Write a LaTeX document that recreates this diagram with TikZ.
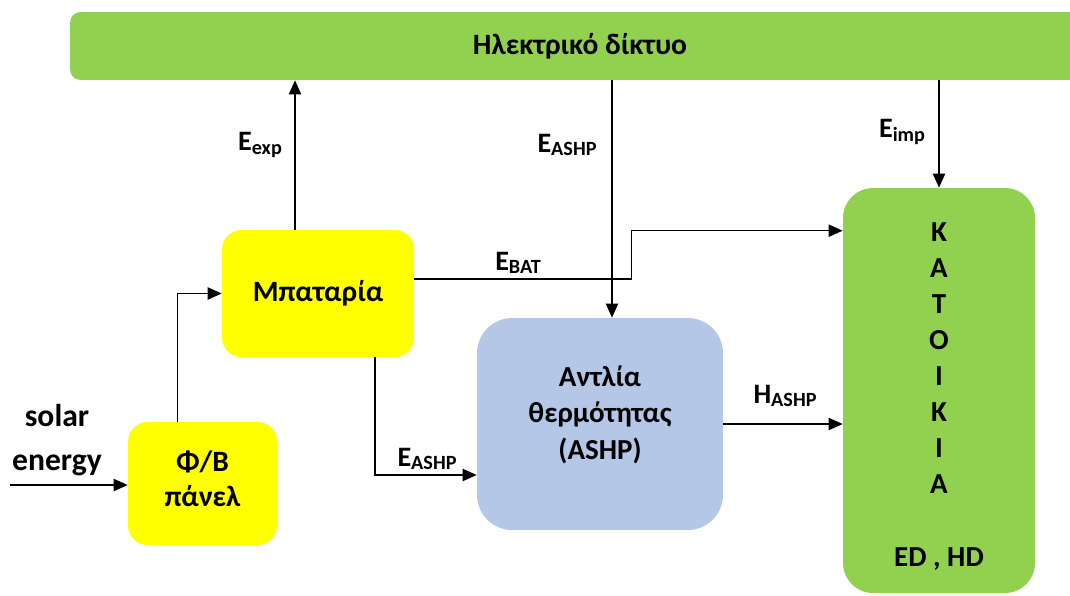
\documentclass[tikz,border=0pt]{standalone}
\usepackage{fontspec}
\setmainfont{Carlito}
\usepackage{tikz}
\usetikzlibrary{arrows.meta,calc}
\definecolor{gridgreen}{HTML}{92D050}
\definecolor{pvyellow}{HTML}{FFFF00}
\definecolor{pumpblue}{HTML}{B4C7E7}
\newcommand{\flowlab}[2]{#1\raisebox{-2pt}{\fontsize{11.5}{12}\selectfont #2}}
\begin{document}
\begin{tikzpicture}[x=0.02cm,y=-0.02cm,font=\bfseries\fontsize{16}{20}\selectfont,
  block/.style={draw=none,align=center,inner sep=0pt},
  flow/.style={-{Triangle[length=8pt,width=7pt]},line width=0.75pt,color=black},
  lab/.style={inner sep=0pt}]
  \useasboundingbox (0,0) rectangle (1070,595);
  \node[block,fill=gridgreen,rounded corners=6pt,minimum width=20.4cm,minimum height=1.36cm,font=\bfseries\fontsize{16.8}{18}\selectfont] (grid) at (580,46) {Ηλεκτρικό δίκτυο};
  \node[block,fill=pvyellow,rounded corners=11pt,minimum width=2.98cm,minimum height=2.46cm,font=\bfseries\fontsize{16.8}{20}\selectfont] (pv) at (202.5,483.5) {Φ/Β\\πάνελ\rule[-5.7pt]{0pt}{0pt}};
  \node[block,fill=pvyellow,rounded corners=11pt,minimum width=3.84cm,minimum height=2.54cm,font=\bfseries\fontsize{16.8}{20}\selectfont] (batt) at (318,293.5) {Μπαταρία};
  \node[block,fill=pumpblue,rounded corners=20pt,minimum width=4.92cm,minimum height=4.24cm,font=\bfseries\fontsize{16.5}{21}\selectfont] (ashp) at (600,424) {Αντλία\\θερμότητας\\(ASHP)\rule[-13pt]{0pt}{0pt}};
  \node[block,fill=gridgreen,rounded corners=17pt,minimum width=3.84cm,minimum height=8.1cm,font=\bfseries\fontsize{16.5}{20.5}\selectfont] (home) at (939,390.5) {\rule{0pt}{17.5pt}Κ\\Α\\Τ\\Ο\\Ι\\Κ\\Ι\\Α\\[20.5pt]ED , HD};
  \coordinate (sun) at (10,485);
  \coordinate (pvout) at ($(pv.north)+(-25,0)$);
  \coordinate (expout) at ($(batt.north)+(-23,0)$);
  \coordinate (batout) at ($(batt.east)+(0,-14.5)$);
  \coordinate (batdown) at ($(batt.south)+(57,0)$);
  \coordinate (pumpin) at ($(ashp.north)+(12,0)$);
  \coordinate (homein) at ($(home.north west)+(0,43)$);
  \draw[flow] (sun) -- (sun -| pv.west);
  \draw[flow] (pvout) |- (batt.west);
  \draw[flow] (expout) -- (expout |- grid.south);
  \draw[flow] (batout) -- ++(217,0) |- (homein);
  \draw[flow] (batdown) |- ($(ashp.west)+(0,51)$);
  \draw[flow] (pumpin |- grid.south) -- (pumpin);
  \draw[flow] (home.north |- grid.south) -- (home.north);
  \draw[flow] (ashp.east) -- (ashp.east -| home.west);
  \node[lab,align=center,font=\bfseries\fontsize{18}{25}\selectfont] (solar) at (57,440) {solar\\energy};
  \node[lab] (eexp) at (260,145) {\flowlab{E}{exp}};
  \node[lab] (egrid) at (567,145) {\flowlab{E}{ASHP}};
  \node[lab] (ebat) at (518,263) {\flowlab{E}{BAT}};
  \node[lab] (eimp) at (902,132) {\flowlab{E}{imp}};
  \node[lab] (ebatp) at (427,459) {\flowlab{E}{ASHP}};
  \node[lab] (hashp) at (785,396) {\flowlab{H}{ASHP}};
\end{tikzpicture}
\end{document}
